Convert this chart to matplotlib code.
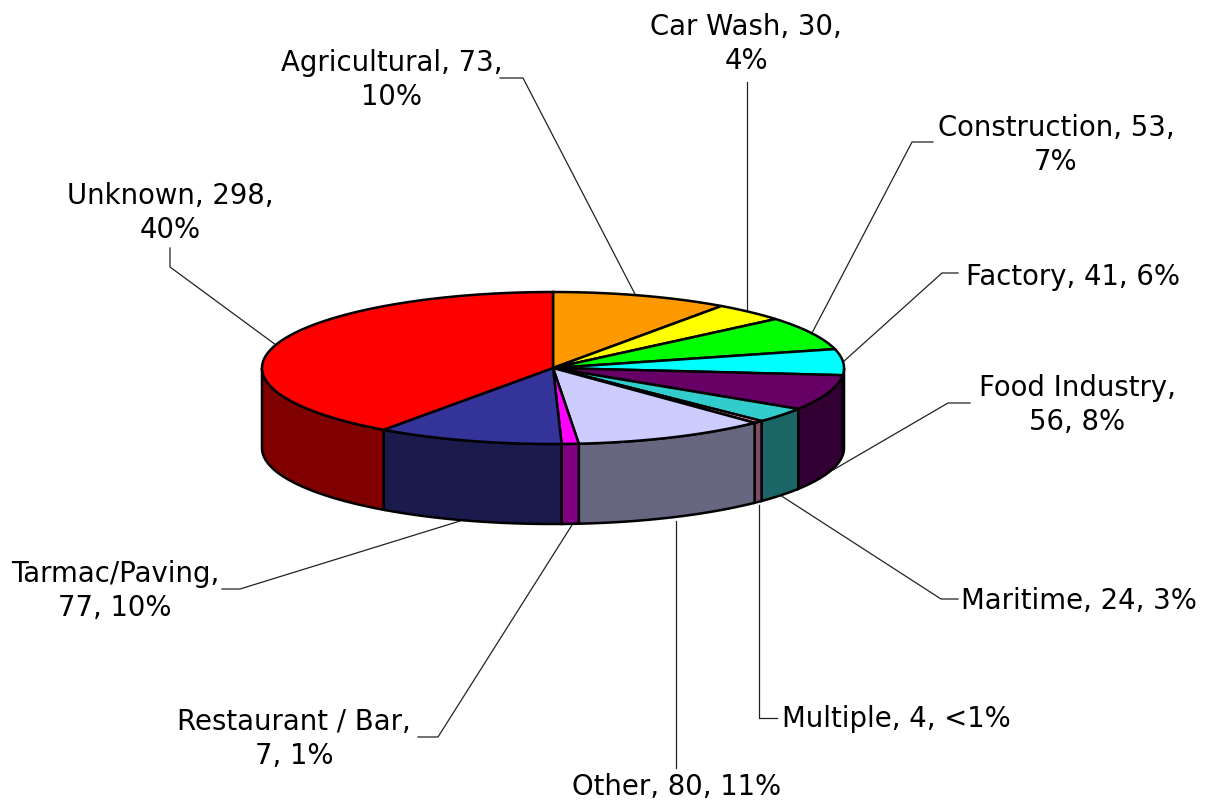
import numpy as np
from matplotlib import pyplot as plt
from matplotlib.patches import Polygon

categories = ['Agricultural', 'Car Wash', 'Construction', 'Factory', 'Food Industry', 'Maritime',
              'Multiple', 'Other', 'Restaurant / Bar', 'Tarmac/Paving', 'Unknown']
values = [73, 30, 53, 41, 56, 24, 4, 80, 7, 77, 298]
labels = ['Agricultural, 73,\n10%', 'Car Wash, 30,\n4%', 'Construction, 53,\n7%', 'Factory, 41, 6%',
          'Food Industry,\n56, 8%', 'Maritime, 24, 3%', 'Multiple, 4, <1%', 'Other, 80, 11%',
          'Restaurant / Bar,\n7, 1%', 'Tarmac/Paving,\n77, 10%', 'Unknown, 298,\n40%']
top_colors = ['#FF9900', '#FFFF00', '#00FF00', '#00FFFF', '#660066', '#33CCCC',
              '#FF99CC', '#CCCCFF', '#FF00FF', '#333399', '#FF0000']

# pie geometry in pixels
cx, cy = 553, 368
rx, ry = 291, 76
depth = 80

label_pos = [(392, 80), (746, 44), (1056, 145), (1073, 277), (1077, 405), (1079, 601),
             (896, 719), (677, 787), (294, 739), (115, 591), (170, 213)]
leaders = [[(500, 78), (523, 78), (636, 296)],
           [(747, 82), (747, 312)],
           [(933, 142), (912, 142), (812, 333)],
           [(958, 273), (942, 273), (843, 362)],
           [(970, 403), (948, 403), (833, 470)],
           [(958, 599), (941, 599), (780, 495)],
           [(777, 718), (759, 718), (759, 505)],
           [(676, 768), (676, 521)],
           [(418, 737), (438, 737), (572, 525)],
           [(222, 589), (240, 589), (460, 521)],
           [(170, 248), (170, 267), (276, 345)]]


def point(a, dy=0):
    return cx + rx * np.sin(a), cy - ry * np.cos(a) + dy


def darken(color):
    r, g, b = plt.matplotlib.colors.to_rgb(color)
    return (r / 2, g / 2, b / 2)


fig = plt.figure(figsize=(12.06, 8.01), dpi=100)
ax = fig.add_axes([0, 0, 1, 1])
ax.set_xlim(0, 1206)
ax.set_ylim(801, 0)
ax.axis('off')

edges = np.cumsum([0] + values) / sum(values) * 2 * np.pi

for line in leaders:
    xs, ys = zip(*line)
    ax.plot(xs, ys, color='#222222', linewidth=0.9, zorder=1)

for i in range(len(values)):
    # side wall, only the part on the front half of the pie
    a0 = max(edges[i], np.pi / 2)
    a1 = min(edges[i + 1], 3 * np.pi / 2)
    if a1 > a0:
        t = np.linspace(a0, a1, 120)
        upper = [point(a) for a in t]
        lower = [point(a, depth) for a in t[::-1]]
        ax.add_patch(Polygon(upper + lower, closed=True, facecolor=darken(top_colors[i]),
                             edgecolor='black', linewidth=1.8, zorder=2))

for i in range(len(values)):
    t = np.linspace(edges[i], edges[i + 1], 200)
    pts = [(cx, cy)] + [point(a) for a in t]
    ax.add_patch(Polygon(pts, closed=True, facecolor=top_colors[i], edgecolor='black',
                         linewidth=1.8, zorder=3))

for text, (x, y) in zip(labels, label_pos):
    ax.text(x, y, text, ha='center', va='center', fontsize=19.8, linespacing=1.3,
            color='black', family='DejaVu Sans', zorder=5)

fig.savefig('out.png', dpi=100, facecolor='white')
